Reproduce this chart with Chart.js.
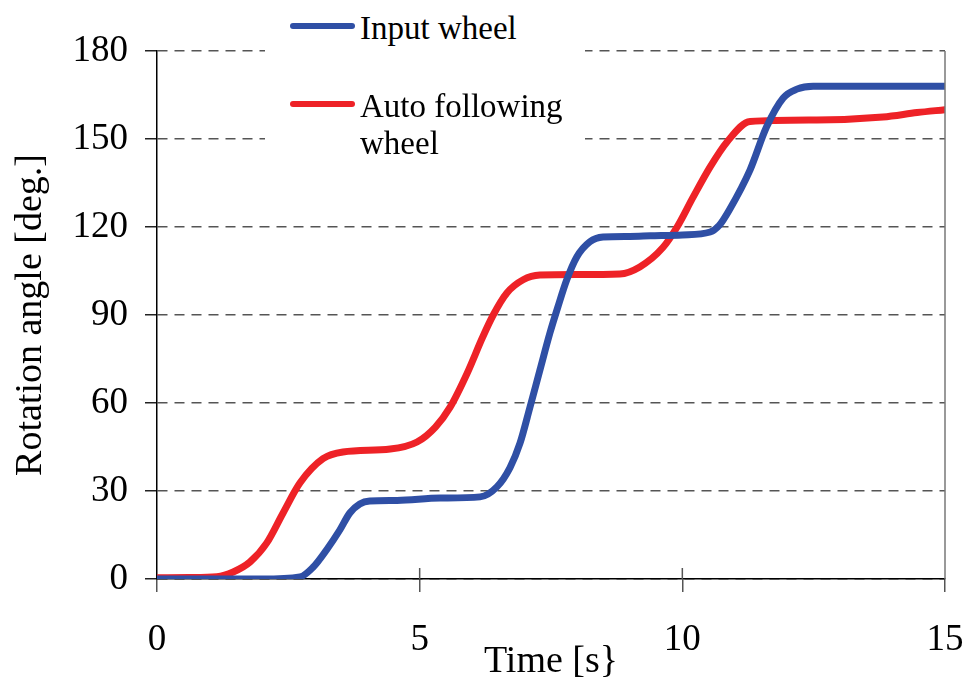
<!DOCTYPE html>
<html>
<head>
<meta charset="utf-8">
<script src="https://cdn.jsdelivr.net/npm/chart.js@4/dist/chart.umd.min.js"></script>
<style>
    body { margin: 0; background: #fff; }
    .wrap { position: relative; width: 966px; height: 685px; }
    .legend {
        position: absolute; left: 265px; top: 0; width: 320px; height: 150px;
        background: #fff; font-family: 'Liberation Serif', serif; font-size: 33px; color: #000;
    }
    .legend-item { position: absolute; left: 25px; display: flex; align-items: flex-start; }
    .swatch { width: 65px; height: 6px; border-radius: 3px; margin-right: 5px; }
    .legend-text { line-height: 37px; }
</style>
</head>
<body>
<div class="wrap">
    <canvas id="angle-chart" width="966" height="685"></canvas>
    <div class="legend"></div>
</div>
<script>
// time [s] / angle [deg.]
const inputTime = [0, 1, 2, 2.72, 2.97, 3.23, 3.48, 3.67, 3.86, 4.05, 4.57, 5.39, 6.15, 6.47, 6.72, 6.91, 7.1, 7.29, 7.48, 7.63, 7.8, 7.99, 8.24, 8.49, 9.0, 9.39, 10.0, 10.53, 10.7, 10.9, 11.29, 11.6, 11.92, 12.18, 12.49, 13.5, 15];
const inputAngle = [0, 0, 0, 0.7, 4, 10, 16.7, 22.5, 25.6, 26.6, 26.8, 27.6, 28, 31.4, 38, 46.3, 58.6, 71.3, 83.9, 92.7, 102, 109.8, 115, 116.6, 116.8, 117, 117.3, 118.3, 120.5, 126, 139.5, 154, 164, 167, 168, 168, 168];
const followTime = [0, 0.6, 1.14, 1.45, 1.77, 2.09, 2.4, 2.72, 3.16, 3.54, 4.44, 4.95, 5.3, 5.58, 5.9, 6.2, 6.4, 6.66, 6.97, 7.29, 8.0, 8.81, 9.19, 9.63, 9.9, 10.2, 10.53, 10.85, 11.29, 12.56, 13.82, 14.47, 15];
const followAngle = [0.4, 0.5, 0.8, 2.4, 5.8, 12.3, 22.5, 32.7, 41, 43.3, 44.3, 46.7, 51.8, 58.6, 70, 82.5, 90, 97.5, 102, 103.6, 103.8, 104, 106.4, 113, 120, 130, 140.5, 149, 156, 156.5, 157.5, 159, 160];

const seriesLabels = ['Input wheel', 'Auto following\nwheel'];
const seriesColors = ['#2f4fa5', '#ee2227'];
const xTicks = [0, 5, 10, 15];
const yTicks = [0, 30, 60, 90, 120, 150, 180];

const FONT = 'Liberation Serif';

function toPoints(xs, ys) {
    return xs.map((x, i) => ({ x: x, y: ys[i] }));
}

// right frame line and the inner half of the x tick marks
const framePlugin = {
    id: 'frame',
    afterDraw(chart) {
        const { ctx, chartArea: a, scales: { x } } = chart;
        ctx.save();
        ctx.strokeStyle = '#777';
        ctx.lineWidth = 1.5;
        ctx.beginPath();
        ctx.moveTo(a.right, a.top);
        ctx.lineTo(a.right, a.bottom);
        ctx.stroke();
        ctx.strokeStyle = '#555';
        x.ticks.forEach(t => {
            if (t.value <= x.min || t.value >= x.max) return;
            const px = x.getPixelForValue(t.value);
            ctx.beginPath();
            ctx.moveTo(px, a.bottom - 11);
            ctx.lineTo(px, a.bottom);
            ctx.stroke();
        });
        ctx.restore();
    }
};

new Chart(document.getElementById('angle-chart'), {
    type: 'line',
    data: {
        datasets: [{
            label: seriesLabels[0],
            data: toPoints(inputTime, inputAngle),
            borderColor: seriesColors[0],
        }, {
            label: seriesLabels[1],
            data: toPoints(followTime, followAngle),
            borderColor: seriesColors[1],
        }]
    },
    options: {
        responsive: false,
        animation: false,
        devicePixelRatio: 1,
        layout: { padding: { top: 51, right: 21, left: 0, bottom: 0 } },
        elements: {
            point: { radius: 0 },
            line: { borderWidth: 7, cubicInterpolationMode: 'monotone', borderCapStyle: 'round', borderJoinStyle: 'round' }
        },
        plugins: {
            legend: { display: false },
            tooltip: { enabled: false }
        },
        scales: {
            x: {
                type: 'linear',
                min: 0, max: 15,
                afterBuildTicks: s => { s.ticks = xTicks.map(v => ({ value: v })); },
                afterFit: s => { s.height = 106; s.paddingLeft = 0; s.paddingRight = 0; },
                grid: { drawOnChartArea: false, tickLength: 13, tickColor: '#555', lineWidth: 1.5 },
                border: { color: '#000', width: 1.5 },
                ticks: { color: '#000', padding: 26, maxRotation: 0, font: { family: FONT, size: 37 } },
                title: {
                    display: true, text: 'Time [s}', color: '#000',
                    padding: { top: 0, bottom: 0 },
                    font: { family: FONT, size: 38, lineHeight: 1.2 }
                }
            },
            y: {
                min: 0, max: 180,
                afterBuildTicks: s => { s.ticks = yTicks.map(v => ({ value: v })); },
                afterFit: s => { s.width = 157; s.paddingTop = 0; s.paddingBottom = 0; },
                grid: { color: '#555', lineWidth: 1.5, tickLength: 12, tickColor: '#222', tickBorderDash: [] },
                border: { color: '#000', width: 1.5, dash: [10, 7] },
                ticks: { color: '#000', padding: 17, font: { family: FONT, size: 37 } },
                title: {
                    display: true, text: 'Rotation angle [deg.]', color: '#000',
                    padding: { top: 8, bottom: 0 },
                    font: { family: FONT, size: 38, lineHeight: 1.2 }
                }
            }
        }
    },
    plugins: [framePlugin]
});

// legend drawn as html over the top of the plot
const legendBox = document.querySelector('.legend');
const legendTops = [10, 88];
seriesLabels.forEach((label, i) => {
    const item = document.createElement('div');
    item.className = 'legend-item';
    item.style.top = legendTops[i] + 'px';
    item.innerHTML = `<div class="swatch" style="background:${seriesColors[i]};margin-top:13px"></div>` +
        `<div class="legend-text">${label.replace('\n', '<br>')}</div>`;
    legendBox.appendChild(item);
});
</script>
</body>
</html>
